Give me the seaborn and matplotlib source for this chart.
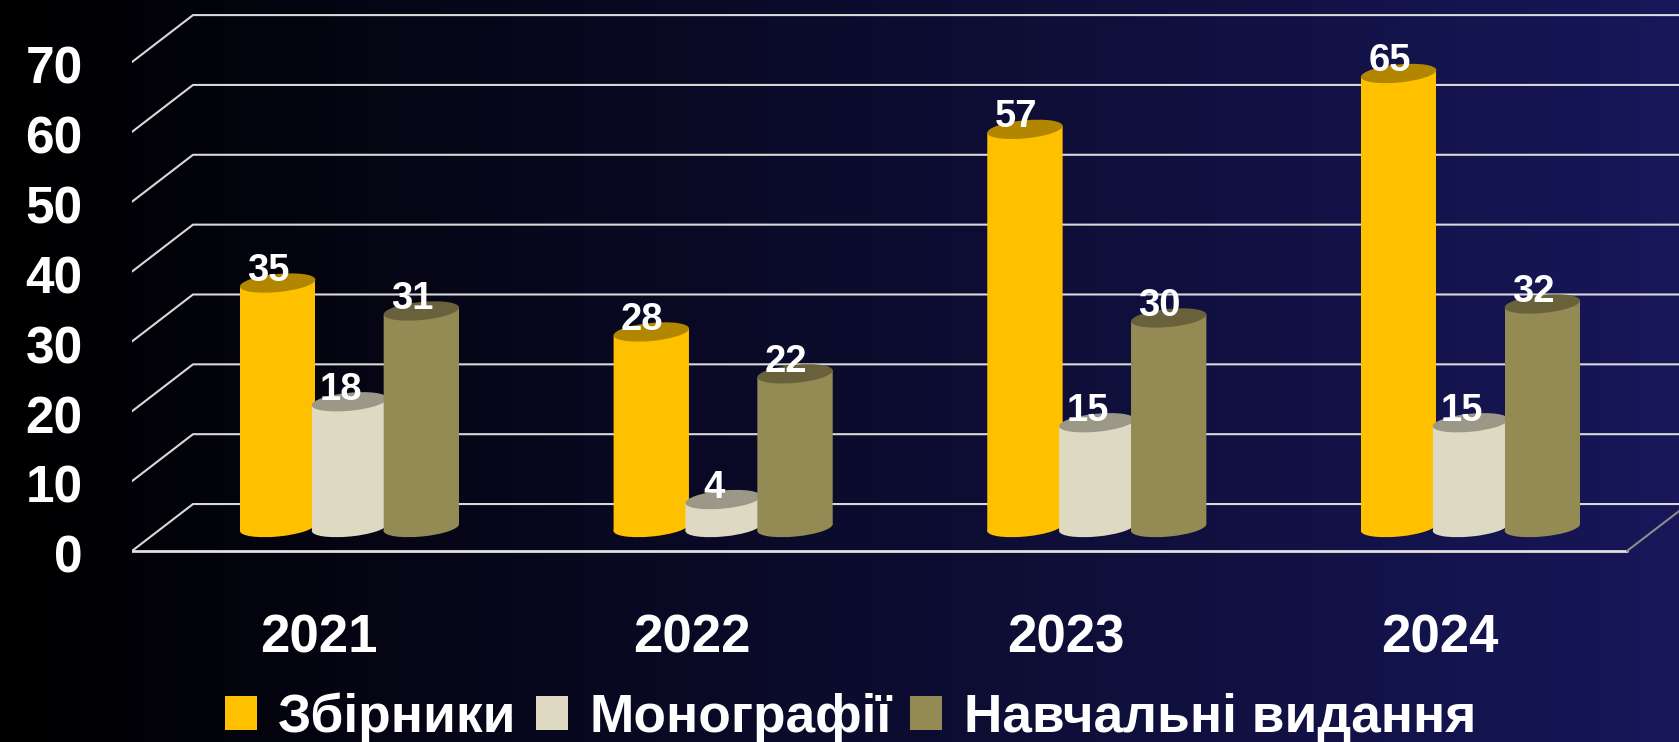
import numpy as np
import pandas as pd
import seaborn as sns
from matplotlib import pyplot as plt
from matplotlib.colors import LinearSegmentedColormap, to_rgb
from matplotlib.patches import Ellipse, Polygon
from matplotlib.transforms import IdentityTransform

years = ["2021", "2022", "2023", "2024"]
collections = [35, 28, 57, 65]
monographs = [18, 4, 15, 15]
textbooks = [31, 22, 30, 32]
series_names = ["Збірники", "Монографії", "Навчальні видання"]
series_colors = ["#FFC000", "#DDD9C3", "#948A54"]
y_ticks = [0, 10, 20, 30, 40, 50, 60, 70]

W, H = 1679, 742
AX_BOTTOM = 580  # pixels from the top, low enough to keep the "0" tick in view
DEPTH = 3.36  # half of the floor depth, in value units
BAR_PX = 75.7
TILT = 5.5

sns.set_theme(style="dark")
plt.rcParams["font.family"] = ["Liberation Sans", "DejaVu Sans"]
plt.rcParams["font.weight"] = "bold"

df = pd.DataFrame({
    "year": years * 3,
    "series": np.repeat(series_names, 4),
    "value": collections + monographs + textbooks,
})

fig = plt.figure(figsize=(W / 100, H / 100), dpi=100)

# background gradient
bg = fig.add_axes([0, 0, 1, 1], zorder=-1)
cmap = LinearSegmentedColormap.from_list("bg", ["#000000", "#17175A"])
bg.imshow(np.linspace(0, 1, 256)[None, :], aspect="auto", cmap=cmap)
bg.axis("off")

ax = fig.add_axes([132 / W, (H - AX_BOTTOM) / H, (W - 132) / W, AX_BOTTOM / H])
ax.patch.set_alpha(0)
sns.barplot(data=df, x="year", y="value", hue="series", palette=series_colors,
            width=0.577, gap=0, saturation=1, linewidth=0, ax=ax)
ax.set_xlabel("")
ax.set_ylabel("")
for spine in ax.spines.values():
    spine.set_visible(False)

# ticks first: they can stretch the limits, which are fixed right after
ax.set_yticks([v - DEPTH - 0.4 for v in y_ticks], [str(v) for v in y_ticks])
ax.set_xticks(np.arange(4) - 0.083, years)
ax.tick_params(axis="y", length=0, pad=35.5, labelsize=37, labelcolor="white")
ax.tick_params(axis="x", length=0, pad=24, labelsize=38, labelcolor="white")
ax.set_xlim(-0.582, 3.558)
ax.set_ylim(-7.516, 75.52)

# perspective grid
grid = ax.get_yaxis_transform()
back_x = (193 - 132) / (W - 132)
front_r = (1627 - 132) / (W - 132)
for v in y_ticks:
    ax.plot([0, back_x, 1], [v - DEPTH, v + DEPTH, v + DEPTH], color="#D9D9D9",
            lw=1.5, transform=grid, zorder=1, solid_joinstyle="miter")
ax.plot([0, front_r], [-DEPTH, -DEPTH], color="#E0E0E0", lw=2, transform=grid, zorder=1)
ax.plot([front_r, 1], [-DEPTH, -DEPTH + 5.7], color="#8C8C8C", lw=1.5, transform=grid, zorder=1)

# turn the flat bars into cylinders
dx = BAR_PX / 2 * np.cos(np.radians(TILT))
dy = BAR_PX / 2 * np.sin(np.radians(TILT))
bars = [p for p in ax.patches if p.get_height() > 0]
order = np.repeat(range(3), 4)
for bar, idx in zip(bars, order):
    value = bar.get_height()
    cx = bar.get_x() + bar.get_width() / 2
    color = series_colors[idx]
    px, top = ax.transData.transform((cx, value))
    _, base = ax.transData.transform((cx, 0))

    px_w = BAR_PX / (W - 132) * 4.14
    bar.set_x(cx - px_w / 2)
    bar.set_width(px_w)
    bar.set_y(-1)
    bar.set_height(value + 2)
    bar.set_zorder(3 + idx)
    side = Polygon([(px - dx, base - dy), (px + dx, base + dy),
                    (px + dx, top + dy), (px - dx, top - dy)],
                   transform=IdentityTransform())
    bar.set_clip_path(side)

    ax.add_patch(Ellipse((px, base), BAR_PX, 18, angle=TILT, color=color,
                         transform=IdentityTransform(), zorder=3 + idx, lw=0))
    ax.add_patch(Ellipse((px, top), BAR_PX, 18, angle=TILT,
                         color=tuple(c * 0.7 for c in to_rgb(color)),
                         transform=IdentityTransform(), zorder=3.5 + idx, lw=0))
    ax.annotate(str(int(value)), (cx, value), xytext=(-9, 12), textcoords="offset pixels",
                ha="center", va="center", color="white", fontsize=27.5,
                fontweight="bold", zorder=10)

sns.move_legend(ax, "lower left", bbox_to_anchor=((225 - 132) / (W - 132), -0.281),
                ncol=3, frameon=False, title=None, fontsize=38.3, borderpad=0,
                borderaxespad=0, handlelength=0.6, handleheight=0.6,
                handletextpad=0.4, columnspacing=0.36, labelcolor="white")

fig.savefig("out.png", dpi=100)
